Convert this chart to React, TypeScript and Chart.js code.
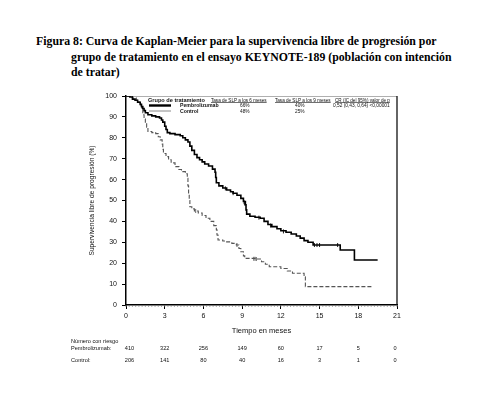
import React, { useEffect, useRef } from "react";
import { Chart, registerables } from "chart.js";

Chart.register(...registerables);

const titleLines = [
  "Figura 8: Curva de Kaplan-Meier para la supervivencia libre de progresión por",
  "grupo de tratamiento en el ensayo KEYNOTE-189 (población con intención",
  "de tratar)",
];

const xTicks = [0, 3, 6, 9, 12, 15, 18, 21];
const yTicks = [0, 10, 20, 30, 40, 50, 60, 70, 80, 90, 100];

const pembroKM = [
  [0, 100], [0.3, 99.5], [0.5, 98.5], [0.7, 98], [0.9, 97], [1.1, 96], [1.2, 95], [1.3, 94], [1.4, 93],
  [1.5, 92], [1.7, 91], [2.0, 90.5], [2.3, 90], [2.6, 89.5], [2.75, 88.5], [2.85, 87.5], [3.0, 85.5],
  [3.1, 84], [3.2, 82.5], [3.4, 82], [3.8, 81.5], [4.2, 81], [4.4, 80], [4.6, 79], [4.8, 78], [4.95, 76],
  [5.1, 74], [5.3, 72], [5.5, 70.5], [5.7, 69.5], [5.9, 68.5], [6.1, 67.5], [6.4, 66.5], [6.7, 65],
  [6.9, 63.5], [6.95, 61], [7.0, 58.5], [7.2, 57], [7.5, 56], [7.8, 55], [8.1, 54.2], [8.3, 53.5],
  [8.6, 52.5], [8.9, 51], [9.1, 49.5], [9.25, 48], [9.3, 45.5], [9.35, 43.5], [9.6, 42.5], [10.0, 42],
  [10.4, 41.5], [10.7, 40], [11.0, 38.5], [11.3, 37.5], [11.7, 36.5], [12.0, 35.5], [12.4, 34.8],
  [12.8, 34], [13.2, 33], [13.5, 32], [13.8, 30.8], [14.1, 30], [14.5, 28.7], [16.6, 26.3],
  [17.7, 21.5], [19.5, 21.5],
];

const controlKM = [
  [0, 100], [0.5, 99], [0.8, 98], [1.0, 97], [1.1, 95.5], [1.2, 93.5], [1.3, 91], [1.4, 89], [1.5, 87],
  [1.6, 85], [1.7, 83], [2.0, 82.5], [2.3, 82], [2.5, 80.5], [2.65, 79], [2.8, 77], [2.85, 74.5],
  [2.9, 72.5], [3.1, 71], [3.3, 69.5], [3.5, 68], [3.8, 66.2], [4.1, 64.8], [4.3, 63.8], [4.6, 62.8],
  [4.75, 60.6], [4.8, 57], [4.85, 53], [4.9, 50], [4.95, 47], [5.1, 46], [5.3, 45], [5.6, 44],
  [5.9, 42.8], [6.2, 41.5], [6.5, 40], [6.8, 38], [7.0, 36], [7.05, 33.5], [7.13, 31.1], [7.5, 30.6],
  [7.8, 30.2], [8.2, 29.5], [8.55, 28.7], [8.75, 27], [8.9, 25.5], [9.1, 23.5], [9.2, 22.3],
  [10.1, 22], [10.5, 20.7], [10.8, 19.5], [11.1, 18.3], [12.0, 17.5], [12.5, 16.3], [12.9, 15.2],
  [13.8, 13.5], [13.9, 8.8], [19.1, 8.8],
];

const pembroCensor = [
  [7.7, 55.8], [8.3, 53.5], [9.15, 49.2], [9.2, 48.6], [10.3, 41.8], [11.2, 38], [12.2, 35.2],
  [14.6, 28.7], [14.8, 28.7], [15.0, 28.7], [16.4, 28.7],
];
const controlCensor = [
  [5.4, 45], [8.6, 28.7], [9.9, 22.1], [10.0, 22.1], [10.1, 22.0],
];

const legendHeader = "Grupo de tratamiento";
const legendColumns = ["Tasa de SLP a los 6 meses", "Tasa de SLP a los 9 meses", "CR (IC del 95%) valor de p"];
const groupNames = ["Pembrolizumab", "Control"];
const rate6 = ["66%", "48%"];
const rate9 = ["40%", "25%"];
const hrText = ["0,52 (0,43, 0,64) <0,00001", ""];

const riskTitle = "Número con riesgo";
const riskLabels = ["Pembrolizumab:", "Control:"];
const riskPembro = [410, 322, 256, 149, 60, 17, 5, 0];
const riskControl = [206, 141, 80, 40, 16, 3, 1, 0];

const SANS = "'Liberation Sans', Arial, sans-serif";

const toXY = (arr: number[][]) => arr.map(([x, y]) => ({ x, y }));

const decorPlugin = {
  id: "decor",
  beforeDatasetsDraw(chart: any) {
    const { ctx, chartArea, scales } = chart;
    const xs = scales.x;
    ctx.save();
    ctx.strokeStyle = "#9a9a9a";
    ctx.lineWidth = 0.8;
    ctx.beginPath();
    ctx.moveTo(chartArea.left, chartArea.top + 0.5);
    ctx.lineTo(chartArea.right, chartArea.top + 0.5);
    ctx.stroke();
    ctx.strokeStyle = "#111";
    ctx.lineWidth = 1.3;
    ctx.beginPath();
    ctx.moveTo(chartArea.right, chartArea.top);
    ctx.lineTo(chartArea.right, chartArea.bottom);
    ctx.stroke();
    ctx.strokeStyle = "#777";
    ctx.lineWidth = 0.6;
    for (let m = 0; m <= 21; m += 0.25) {
      const px = xs.getPixelForValue(m);
      ctx.beginPath();
      ctx.moveTo(px, chartArea.bottom);
      ctx.lineTo(px, chartArea.bottom + 2);
      ctx.stroke();
    }
    ctx.restore();
  },
  afterDraw(chart: any) {
    const { ctx, chartArea, scales } = chart;
    const L = chartArea.left;
    const T = chartArea.top;
    const xs = scales.x;
    ctx.save();
    ctx.fillStyle = "#111";
    ctx.textBaseline = "alphabetic";
    ctx.textAlign = "left";
    ctx.font = `bold 5.6px ${SANS}`;
    ctx.fillText(legendHeader, L + 22, T + 6);
    ctx.font = `4.6px ${SANS}`;
    const colX = [L + 85, L + 149, L + 209];
    legendColumns.forEach((t, i) => {
      ctx.fillText(t, colX[i], T + 5.5);
      const w = ctx.measureText(t).width;
      ctx.fillRect(colX[i], T + 6.4, w, 0.6);
    });
    const rowY = [T + 11, T + 16.5];
    ctx.strokeStyle = "#000";
    ctx.lineWidth = 2.4;
    ctx.beginPath();
    ctx.moveTo(L + 23, T + 9.5);
    ctx.lineTo(L + 45, T + 9.5);
    ctx.stroke();
    ctx.strokeStyle = "#8a8a8a";
    ctx.lineWidth = 1;
    ctx.beginPath();
    ctx.moveTo(L + 23, T + 15);
    ctx.lineTo(L + 45, T + 15);
    ctx.stroke();
    groupNames.forEach((g, i) => {
      ctx.font = `bold 5.2px ${SANS}`;
      ctx.fillText(g, L + 54, rowY[i]);
      ctx.font = `4.8px ${SANS}`;
      ctx.fillText(rate6[i], L + 114, rowY[i]);
      ctx.fillText(rate9[i], L + 169, rowY[i]);
      if (hrText[i]) ctx.fillText(hrText[i], L + 207, rowY[i]);
    });
    const B = chartArea.bottom;
    ctx.font = `5.6px ${SANS}`;
    ctx.fillText(riskTitle, 71, B + 38);
    ctx.fillText(riskLabels[0], 71, B + 44.5);
    ctx.fillText(riskLabels[1], 71, B + 57);
    ctx.textAlign = "center";
    ctx.font = `5.6px ${SANS}`;
    xTicks.forEach((t, i) => {
      const shift = i === 0 ? 3.5 : i === xTicks.length - 1 ? -2 : 0;
      const px = xs.getPixelForValue(t) + shift;
      ctx.fillText(String(riskPembro[i]), px, B + 44.5);
      ctx.fillText(String(riskControl[i]), px, B + 57);
    });
    ctx.restore();
  },
};

export default function App() {
  const ref = useRef<HTMLCanvasElement | null>(null);
  useEffect(() => {
    if (!ref.current) return;
    const chart = new Chart(ref.current, {
      type: "line",
      data: {
        datasets: [
          {
            label: "Pembrolizumab",
            data: toXY(pembroKM),
            borderColor: "#000",
            borderWidth: 1.6,
            stepped: true,
            pointRadius: 0,
            fill: false,
          },
          {
            label: "Control",
            data: toXY(controlKM),
            borderColor: "#555",
            borderWidth: 1.1,
            borderDash: [4, 2],
            stepped: true,
            pointRadius: 0,
            fill: false,
          },
          {
            type: "scatter",
            label: "censor-p",
            data: toXY(pembroCensor),
            pointStyle: "line",
            rotation: 90,
            pointRadius: 2,
            borderColor: "#000",
            borderWidth: 0.9,
            showLine: false,
          } as any,
          {
            type: "scatter",
            label: "censor-c",
            data: toXY(controlCensor),
            pointStyle: "line",
            rotation: 90,
            pointRadius: 2,
            borderColor: "#555",
            borderWidth: 0.9,
            showLine: false,
          } as any,
        ],
      },
      options: {
        animation: false,
        responsive: true,
        maintainAspectRatio: false,
        layout: { padding: { left: 80, right: 92, top: 96, bottom: 57 } },
        plugins: { legend: { display: false }, tooltip: { enabled: false } },
        scales: {
          x: {
            type: "linear",
            min: 0,
            max: 21,
            afterFit: (s: any) => { s.height = 32; },
            afterBuildTicks: (s: any) => { s.ticks = xTicks.map((v) => ({ value: v })); },
            border: { color: "#000", width: 1.5 },
            grid: { display: true, drawOnChartArea: false, drawTicks: true, tickLength: 4, color: "#000", lineWidth: 1 },
            ticks: { color: "#111", font: { family: SANS, size: 7 }, padding: 3, maxRotation: 0 },
            title: {
              display: true,
              text: "Tiempo en meses",
              color: "#111",
              font: { family: SANS, size: 7.5 },
              padding: { top: 0, bottom: 1.5 },
            },
          },
          y: {
            type: "linear",
            min: 0,
            max: 100,
            afterFit: (s: any) => { s.width = 46; },
            afterBuildTicks: (s: any) => { s.ticks = yTicks.map((v) => ({ value: v })); },
            border: { color: "#000", width: 1.5 },
            grid: { display: true, drawOnChartArea: false, drawTicks: true, tickLength: 4, color: "#000", lineWidth: 1 },
            ticks: { color: "#111", font: { family: SANS, size: 7 }, padding: 5 },
            title: {
              display: true,
              text: "Supervivencia libre de progresión (%)",
              color: "#111",
              font: { family: SANS, size: 6.6 },
              padding: { top: 8, bottom: 0 },
            },
          },
        },
      },
      plugins: [decorPlugin],
    });
    return () => chart.destroy();
  }, []);

  return (
    <div style={{ position: "absolute", left: 0, top: 0, width: 489, height: 394, background: "#fff" }}>
      <div
        style={{
          position: "absolute",
          left: 36,
          top: 34,
          width: 440,
          fontFamily: "'Liberation Serif', 'Times New Roman', serif",
          fontWeight: "bold",
          fontSize: 11.8,
          lineHeight: "15.6px",
          color: "#000",
        }}
      >
        {titleLines.map((t, i) => (
          <div key={i} style={{ paddingLeft: i === 0 ? 0 : 35, whiteSpace: "nowrap" }}>{t}</div>
        ))}
      </div>
      <div style={{ position: "absolute", left: 0, top: 0, width: 489, height: 394 }}>
        <canvas ref={ref} />
      </div>
    </div>
  );
}
